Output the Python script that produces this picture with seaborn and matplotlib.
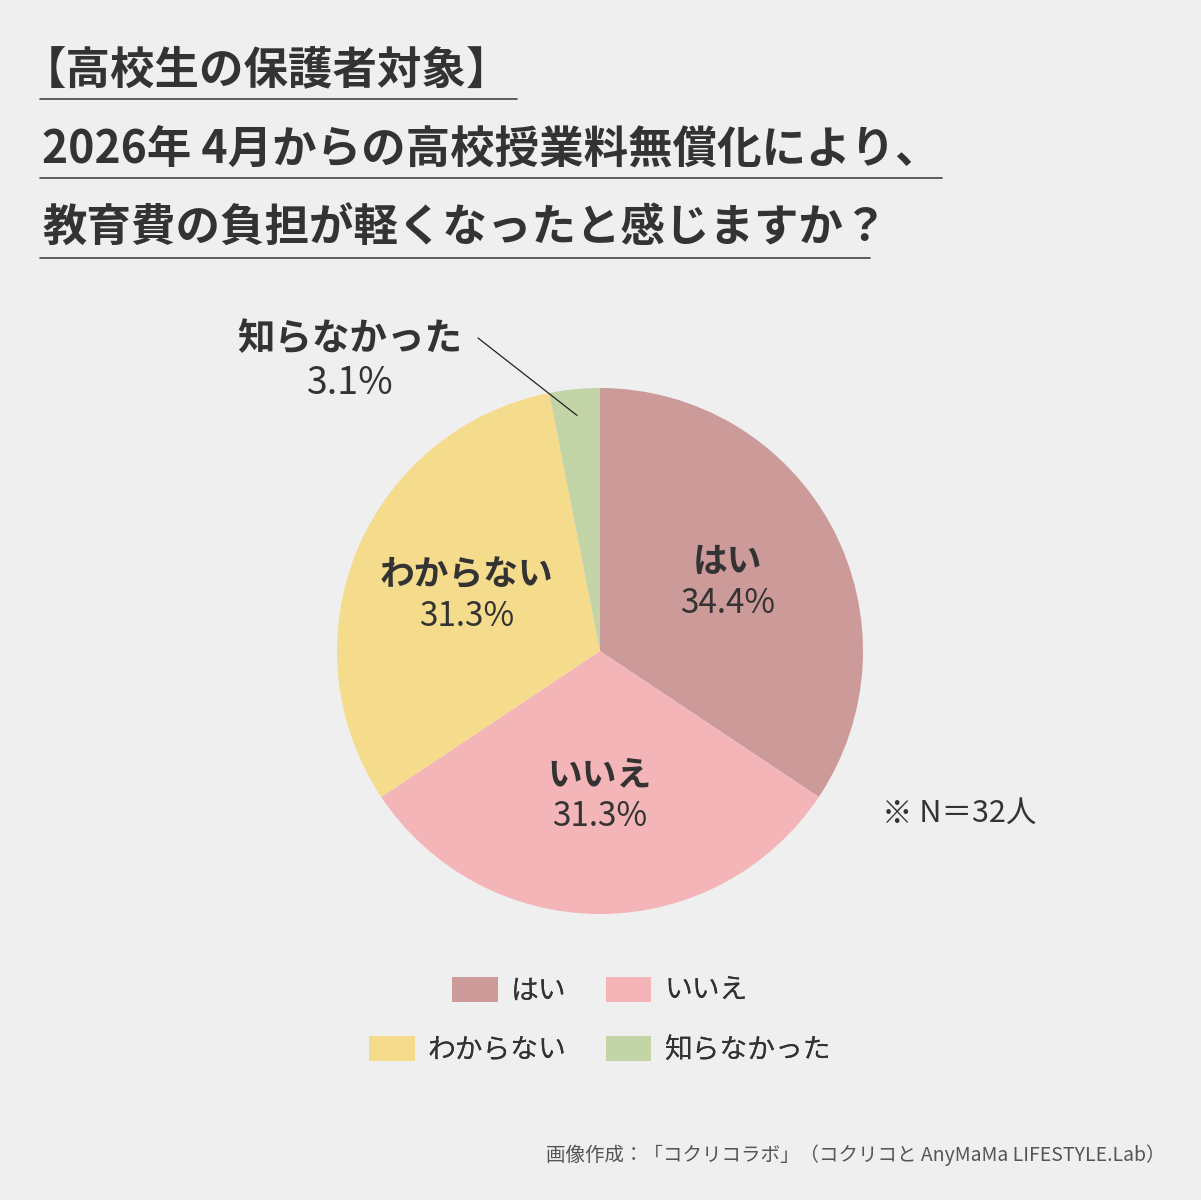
import numpy as np
import matplotlib
matplotlib.use("Agg")
import matplotlib.pyplot as plt
import seaborn as sns
from matplotlib.lines import Line2D
from matplotlib.patches import Patch

# Data
labels = ["はい", "いいえ", "わからない", "知らなかった"]
shares = [34.4, 31.3, 31.3, 3.1]
colors = ["#cd9a9a", "#f3b5b8", "#f5dc8d", "#c3d4a7"]

title_lines = ["【高校生の保護者対象】",
               "2026年 4月からの高校授業料無償化により、",
               "教育費の負担が軽くなったと感じますか？"]
note = "※ N＝32人"
credit = "画像作成：「コクリコラボ」（コクリコと AnyMaMa LIFESTYLE.Lab）"

W, H = 1201, 1200
BG = "#efefef"
TXT = "#333333"

sns.set_theme(style="white")
plt.rcParams["font.family"] = ["Noto Sans CJK JP", "DejaVu Sans"]

fig = plt.figure(figsize=(W / 100, H / 100), dpi=100, facecolor=BG)


def fx(x):
    return x / W


def fy(y):
    return 1 - y / H


# Title block with underlines
title_x = [22, 42, 42]
title_y = [70, 150, 229]
line_y = [99, 178, 258]
line_x2 = [517, 942, 870]
for txt, tx, ty, ly, lx in zip(title_lines, title_x, title_y, line_y, line_x2):
    fig.text(fx(tx), fy(ty), txt, fontsize=32, fontweight="bold",
             color=TXT, ha="left", va="center")
    fig.add_artist(Line2D([fx(40), fx(lx)], [fy(ly), fy(ly)],
                          color="#444444", lw=1.2))

# Pie axes: center (600, 651) px, radius 263 px
cx, cy, R, S = 600, 651, 263, 400
ax = fig.add_axes([fx(cx - S), fy(cy + S), 2 * S / W, 2 * S / H])
ax.set_facecolor("none")
wedges, _ = ax.pie(shares, colors=colors, startangle=90, counterclock=False,
                   radius=1, wedgeprops=dict(linewidth=0))
lim = S / R
ax.set_xlim(-lim, lim)
ax.set_ylim(-lim, lim)
ax.axis("off")

for w, lab, val in zip(wedges, labels, shares):
    mid = np.deg2rad((w.theta1 + w.theta2) / 2)
    if val > 10:
        x, y = 0.55 * np.cos(mid), 0.55 * np.sin(mid)
        ax.text(x, y + 0.08, lab, fontsize=25, fontweight="bold",
                color=TXT, ha="center", va="center")
        ax.text(x, y - 0.08, f"{val}%", fontsize=24, color=TXT,
                ha="center", va="center")
    else:
        x0, y0 = 0.9 * np.cos(mid), 0.9 * np.sin(mid)
        x1, y1 = -122 / R, 313 / R
        ax.plot([x0, x1], [y0, y1], color="#222222", lw=0.9)
        tx, ty = -250 / R, 290 / R
        ax.text(tx, ty + 0.085, lab, fontsize=27, fontweight="bold",
                color=TXT, ha="center", va="center")
        ax.text(tx, ty - 0.085, f"{val}%", fontsize=27, color=TXT,
                ha="center", va="center")

# Sample size note
fig.text(fx(882), fy(813), note, fontsize=22, color=TXT,
         ha="left", va="center")

# Legend: two rows, each centred
handles = [Patch(facecolor=c, edgecolor="none") for c in colors]
rows = [(0, 1, 991), (2, 3, 1050)]
for a, b, ry in rows:
    leg = fig.legend([handles[a], handles[b]], [labels[a], labels[b]],
                     loc="center", bbox_to_anchor=(fx(600), fy(ry)),
                     ncol=2, frameon=False, fontsize=20,
                     handlelength=1.65, handleheight=0.97,
                     handletextpad=0.47, columnspacing=1.4,
                     borderpad=0, borderaxespad=0)
    for t in leg.get_texts():
        t.set_color(TXT)
    fig.add_artist(leg)

# Credit
fig.text(fx(1165), fy(1155), credit, fontsize=14, color="#555555",
         ha="right", va="center")

fig.savefig("out.png", dpi=100, facecolor=BG)
